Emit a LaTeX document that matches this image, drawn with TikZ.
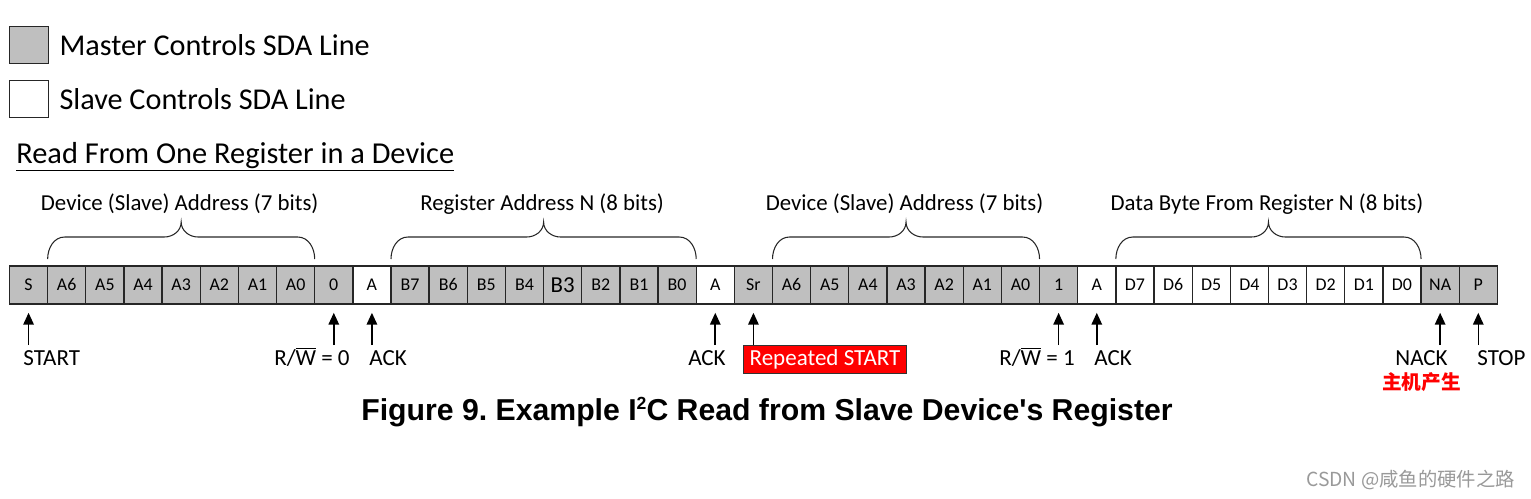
\documentclass[tikz,border=0pt]{standalone}
\usepackage{fontspec}
\setmainfont{Carlito}
\newfontfamily\titlefont{Liberation Sans}
\newfontfamily\cjk{Noto Sans CJK SC}
\usepackage{xcolor}
\usetikzlibrary{arrows.meta,positioning,calc}
\definecolor{mstgray}{RGB}{191,191,191}
\definecolor{hlred}{RGB}{255,0,0}
\newcommand\bigbit[1]{{\fontsize{13}{14}\selectfont #1}}
\frenchspacing
\tikzset{
  bitcell/.style={
    rectangle, draw=black!85, line width=0.75pt,
    minimum width=0.763cm, minimum height=0.76cm,
    inner sep=0pt, outer sep=0pt, font=\fontsize{10.2}{11}\selectfont
  },
  mst/.style={bitcell, fill=mstgray},
  slv/.style={bitcell, fill=white},
  legbox/.style={rectangle, draw=black!85, line width=0.75pt, minimum width=0.78cm, minimum height=0.75cm, inner sep=0pt},
  legtext/.style={font=\fontsize{17.2}{20}\selectfont, inner sep=0pt},
  sectitle/.style={font=\fontsize{17.3}{20}\selectfont, inner sep=0pt},
  fieldlabel/.style={font=\fontsize{13}{15}\selectfont, inner sep=0pt, anchor=base},
  fieldbrace/.style={line width=0.6pt, draw=black!85},
  sig/.style={font=\fontsize{13.1}{15}\selectfont, inner sep=0pt, text height=11.7pt, text depth=2pt},
  sigarrow/.style={-{Triangle[length=6.8pt,width=6pt]}, line width=0.9pt, shorten >=5pt},
  rsbox/.style={rectangle, draw=black!80, line width=0.6pt, fill=hlred, text=white,
    minimum width=3.26cm, minimum height=0.56cm, inner sep=0pt, font=\fontsize{13.1}{15}\selectfont},
  hostlabel/.style={font=\cjk\bfseries\fontsize{11.2}{13}\selectfont, text=hlred, inner sep=0pt},
  figtitle/.style={font=\titlefont\bfseries\fontsize{17.2}{20}\selectfont, inner sep=0pt},
  wmark/.style={font=\cjk\fontsize{11}{13}\selectfont, text=black!40, inner sep=0pt},
}
% brace over a run of bit cells: first cell, last cell, label
\newcommand\fieldbrace[3]{%
  \coordinate (bl) at ($(#1.north west)+(0,-7)$);
  \coordinate (br) at ($(#2.north east)+(0,-7)$);
  \coordinate (bm) at ($(bl)!.5!(br)+(0,-37)$);
  \draw[fieldbrace] (bl) to[out=90,in=180] ($(bl)+(17,-22)$) -- ($(bm)+(-17,15)$)
    to[out=0,in=-90] (bm) to[out=-90,in=180] ($(bm)+(17,15)$) -- ($(br)+(-17,-22)$)
    to[out=0,in=90] (br);
  \node[fieldlabel] at ($(bm)+(-1.5,-11.3)$) {#3};
}

\begin{document}
\begin{tikzpicture}[x=0.02cm, y=-0.02cm]
  \useasboundingbox (0,0) rectangle (1531,498);

  % legend
  \node[legbox, fill=mstgray] (lgm) at (29,45) {};
  \node[legtext, right=0.2cm of lgm] (lgmt) {Master Controls SDA Line};
  \node[legbox, fill=white] (lgs) at (29,99) {};
  \node[legtext, right=0.2cm of lgs] (lgst) {Slave Controls SDA Line};

  \node[sectitle, anchor=base west] (sec) at (16,163) {\underline{Read From One Register in a Device}};

  % bit cells
  \foreach \t/\s [count=\i] in {S/mst, A6/mst, A5/mst, A4/mst, A3/mst, A2/mst, A1/mst, A0/mst, 0/mst, A/slv,
      B7/mst, B6/mst, B5/mst, B4/mst, \bigbit{B3}/mst, B2/mst, B1/mst, B0/mst, A/slv, Sr/mst,
      A6/mst, A5/mst, A4/mst, A3/mst, A2/mst, A1/mst, A0/mst, 1/mst, A/slv,
      D7/slv, D6/slv, D5/slv, D4/slv, D3/slv, D2/slv, D1/slv, D0/slv, NA/mst, P/mst}
    \node[\s] (c\i) at ({9.5+(\i-0.5)*38.15},285) {\t};

  % field braces
  \fieldbrace{c2}{c8}{Device (Slave) Address (7 bits)}
  \fieldbrace{c11}{c18}{Register Address N (8 bits)}
  \fieldbrace{c21}{c27}{Device (Slave) Address (7 bits)}
  \fieldbrace{c30}{c37}{Data Byte From Register N (8 bits)}

  % signal labels
  \node[sig, anchor=north west] (lstart) at (23,345) {START};
  \node[sig, anchor=north east] (lrw0) at (350,345) {R/$\overline{\mbox{W}}$ = 0};
  \node[sig, anchor=north west] (lack1) at (369,345) {ACK};
  \node[sig, anchor=north east] (lack2) at (726,345) {ACK};
  \node[rsbox, anchor=north west] (lrs) at (743,345) {Repeated START};
  \node[sig, anchor=north east] (lrw1) at (1075,345) {R/$\overline{\mbox{W}}$ = 1};
  \node[sig, anchor=north west] (lack3) at (1094,345) {ACK};
  \node[sig, anchor=north east] (lnack) at (1448,345) {NACK};
  \node[hostlabel, below=0.05cm of lnack] (lhost) {主机产生};
  \node[sig, anchor=north west] (lstop) at (1477,345) {STOP};

  \draw[sigarrow] (c1.south |- lstart.north) -- (c1.south);
  \draw[sigarrow] (c9.south |- lrw0.north) -- (c9.south);
  \draw[sigarrow] (c10.south |- lack1.north) -- (c10.south);
  \draw[sigarrow] (c19.south |- lack2.north) -- (c19.south);
  \draw[sigarrow] (c20.south |- lrs.north) -- (c20.south);
  \draw[sigarrow] (c28.south |- lrw1.north) -- (c28.south);
  \draw[sigarrow] (c29.south |- lack3.north) -- (c29.south);
  \draw[sigarrow] (c38.south |- lnack.north) -- (c38.south);
  \draw[sigarrow] (c39.south |- lstop.north) -- (c39.south);

  \node[figtitle] (fig) at (767,412) {Figure 9. Example I\raisebox{0.7ex}{\fontsize{10}{10}\selectfont 2}C Read from Slave Device\textquotesingle s Register};
  \node[wmark, anchor=base east] (wm) at (1515,486) {CSDN @咸鱼的硬件之路};
\end{tikzpicture}
\end{document}
